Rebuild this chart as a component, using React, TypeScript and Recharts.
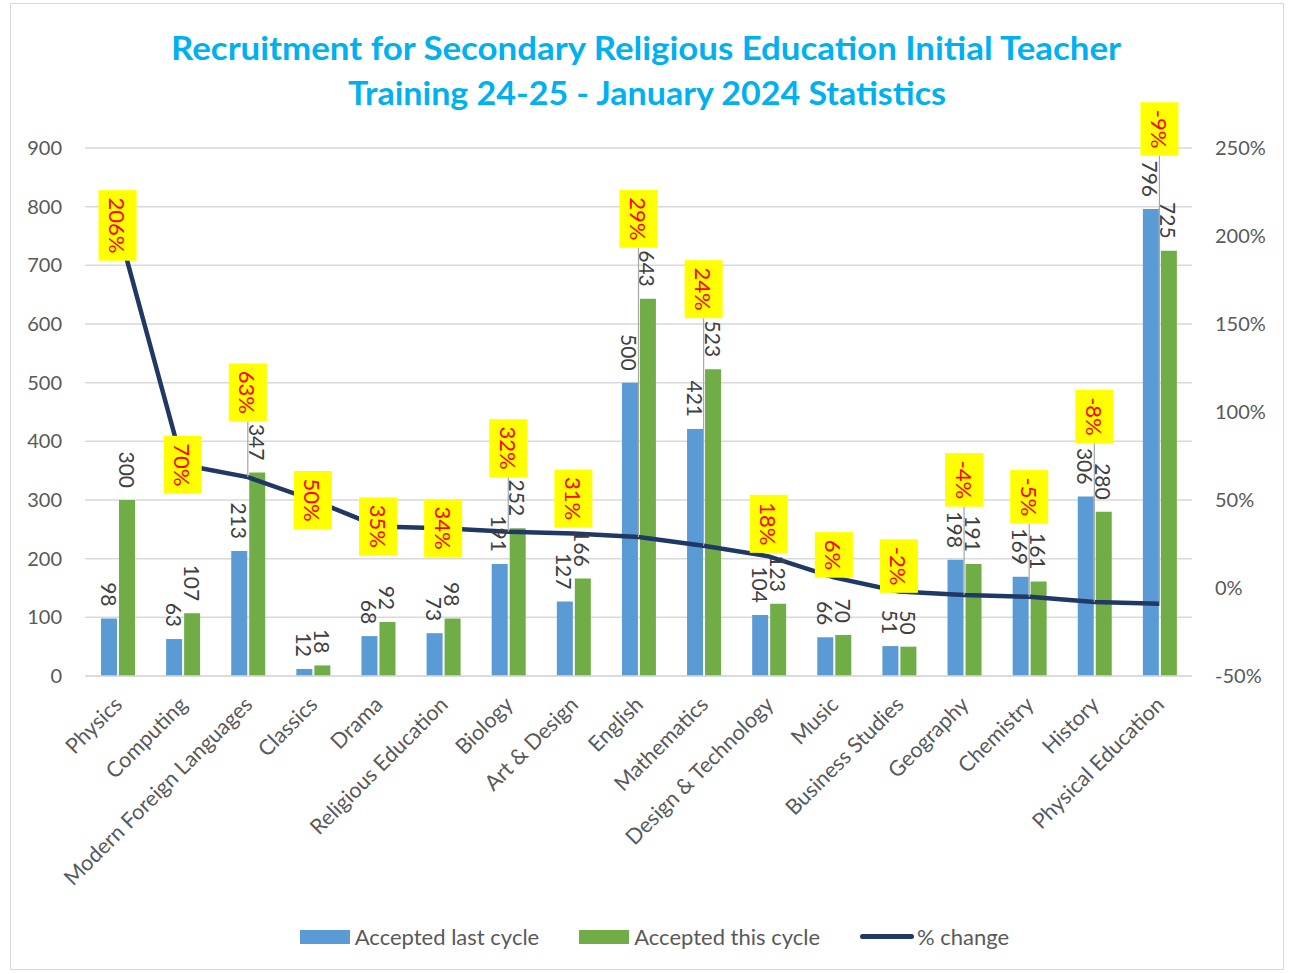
import { ComposedChart, Bar, Line, XAxis, YAxis, CartesianGrid, LabelList } from 'recharts'

const CATEGORIES = [
  'Physics', 'Computing', 'Modern Foreign Languages', 'Classics', 'Drama',
  'Religious Education', 'Biology', 'Art & Design', 'English', 'Mathematics',
  'Design & Technology', 'Music', 'Business Studies', 'Geography', 'Chemistry',
  'History', 'Physical Education',
]
const LAST_CYCLE = [98, 63, 213, 12, 68, 73, 191, 127, 500, 421, 104, 66, 51, 198, 169, 306, 796]
const THIS_CYCLE = [300, 107, 347, 18, 92, 98, 252, 166, 643, 523, 123, 70, 50, 191, 161, 280, 725]
const PCT_CHANGE = [206, 70, 63, 50, 35, 34, 32, 31, 29, 24, 18, 6, -2, -4, -5, -8, -9]
const LEFT_TICKS = [0, 100, 200, 300, 400, 500, 600, 700, 800, 900]
const RIGHT_TICKS = [-50, 0, 50, 100, 150, 200, 250]
const TITLE_LINES = [
  'Recruitment for Secondary Religious Education Initial Teacher',
  'Training 24-25 - January 2024 Statistics',
]

const data = CATEGORIES.map((name, i) => ({
  name,
  last: LAST_CYCLE[i],
  curr: THIS_CYCLE[i],
  pct: PCT_CHANGE[i],
}))

const W = 1289
const H = 974
const FONT = 'Lato, "Open Sans", sans-serif'
const PLOT_TOP = 148
const PLOT_BOTTOM = 676
const LEFT_MAX = 900

// pixel y of a value on the left (count) axis, same domain as the YAxis below
const leftY = (v: number) => PLOT_BOTTOM - (v / LEFT_MAX) * (PLOT_BOTTOM - PLOT_TOP)

const textLen = (s: string) =>
  s.split('').reduce((a, c) => a + (c === '%' ? 17 : c === '-' ? 8 : 12.5), 0)

function BarValue(props: any) {
  const { x, y, width, value } = props
  const cx = Number(x) + Number(width) / 2
  const ty = Number(y) - 12
  return (
    <text
      x={cx}
      y={ty}
      transform={`rotate(90 ${cx} ${ty})`}
      textAnchor="end"
      dominantBaseline="central"
      fill="#404040"
      fontSize={21}
      fontFamily={FONT}
    >
      {value}
    </text>
  )
}

function PctLabel(props: any) {
  const { x, y, value, index } = props
  const label = `${value}%`
  const boxH = textLen(label) + 16
  const boxW = 38
  const barTop = leftY(Math.max(LAST_CYCLE[index], THIS_CYCLE[index]))
  const cy = Math.min(Number(y), barTop - 80)
  const bottom = cy + boxH / 2
  return (
    <g>
      {Number(y) - bottom > 15 && (
        <line x1={x} y1={bottom} x2={x} y2={y} stroke="#a6a6a6" strokeWidth={1.2} />
      )}
      <rect x={x - boxW / 2} y={cy - boxH / 2} width={boxW} height={boxH} fill="#ffff00" />
      <text
        x={x}
        y={cy}
        transform={`rotate(90 ${x} ${cy})`}
        textAnchor="middle"
        dominantBaseline="central"
        fill="#ff0000"
        fontSize={22}
        fontFamily={FONT}
      >
        {label}
      </text>
    </g>
  )
}

function CategoryTick(props: any) {
  const { x, y, payload } = props
  const tx = x + 6
  const ty = y + 22
  return (
    <text
      x={tx}
      y={ty}
      transform={`rotate(-45 ${tx} ${ty})`}
      textAnchor="end"
      fill="#595959"
      fontSize={21.5}
      fontFamily={FONT}
    >
      {payload.value}
    </text>
  )
}

function LegendRow() {
  const item = { display: 'flex', alignItems: 'center', marginRight: 40 }
  const txt = { fontSize: 22, color: '#595959', fontFamily: FONT }
  return (
    <div
      style={{
        position: 'absolute', left: 0, top: 923, width: W, display: 'flex',
        justifyContent: 'center', paddingLeft: 60, boxSizing: 'border-box',
      }}
    >
      <div style={item}>
        <span style={{ width: 50, height: 14, background: '#5b9bd5', marginRight: 5 }} />
        <span style={txt}>Accepted last cycle</span>
      </div>
      <div style={item}>
        <span style={{ width: 50, height: 14, background: '#70ad47', marginRight: 5 }} />
        <span style={txt}>Accepted this cycle</span>
      </div>
      <div style={item}>
        <span style={{ width: 54, height: 5, borderRadius: 3, background: '#203864', marginRight: 3 }} />
        <span style={txt}>% change</span>
      </div>
    </div>
  )
}

export default function App() {
  return (
    <div style={{ position: 'absolute', left: 0, top: 0, width: W, height: H, background: '#fff' }}>
      <div
        style={{
          position: 'absolute', left: 10, top: 3, width: 1274, height: 967,
          border: '1px solid #d9d9d9', boxSizing: 'border-box',
        }}
      />
      <svg style={{ position: 'absolute', left: 0, top: 0 }} width={W} height={120}>
        <text
          x={646} y={60} textAnchor="middle" fill="#00b0f0" fontSize={32} fontWeight={700}
          fontFamily={FONT} textLength={950} lengthAdjust="spacingAndGlyphs"
        >
          {TITLE_LINES[0]}
        </text>
        <text
          x={647} y={105} textAnchor="middle" fill="#00b0f0" fontSize={32} fontWeight={700}
          fontFamily={FONT} textLength={598} lengthAdjust="spacingAndGlyphs"
        >
          {TITLE_LINES[1]}
        </text>
      </svg>
      <div style={{ position: 'absolute', left: 0, top: 0 }}>
        <ComposedChart
          width={W}
          height={H}
          data={data}
          margin={{ top: PLOT_TOP, right: 10, bottom: 50, left: 10 }}
          barSize={16}
          barGap={2}
        >
          <CartesianGrid yAxisId="left" vertical={false} stroke="#d9d9d9" strokeWidth={1.5} />
          <XAxis
            dataKey="name"
            interval={0}
            height={H - PLOT_BOTTOM - 50}
            axisLine={{ stroke: '#d9d9d9', strokeWidth: 1.5 }}
            tickLine={false}
            tick={<CategoryTick />}
          />
          <YAxis
            yAxisId="left"
            domain={[0, LEFT_MAX]}
            ticks={LEFT_TICKS}
            width={75}
            axisLine={false}
            tickLine={false}
            tickMargin={17}
            tick={{ fill: '#595959', fontSize: 20, fontFamily: FONT }}
          />
          <YAxis
            yAxisId="right"
            orientation="right"
            domain={[-50, 250]}
            ticks={RIGHT_TICKS}
            width={87}
            axisLine={false}
            tickLine={false}
            tickMargin={17}
            tickFormatter={(v: number) => `${v}%`}
            tick={{ fill: '#595959', fontSize: 20, fontFamily: FONT, textAnchor: 'start' }}
          />
          <Bar yAxisId="left" dataKey="last" name="Accepted last cycle" fill="#5b9bd5" isAnimationActive={false}>
            <LabelList dataKey="last" content={<BarValue />} />
          </Bar>
          <Bar yAxisId="left" dataKey="curr" name="Accepted this cycle" fill="#70ad47" isAnimationActive={false}>
            <LabelList dataKey="curr" content={<BarValue />} />
          </Bar>
          <Line
            yAxisId="right"
            dataKey="pct"
            name="% change"
            type="linear"
            stroke="#203864"
            strokeWidth={4.5}
            dot={false}
            isAnimationActive={false}
          >
            <LabelList dataKey="pct" content={<PctLabel />} />
          </Line>
        </ComposedChart>
      </div>
      <LegendRow />
    </div>
  )
}
